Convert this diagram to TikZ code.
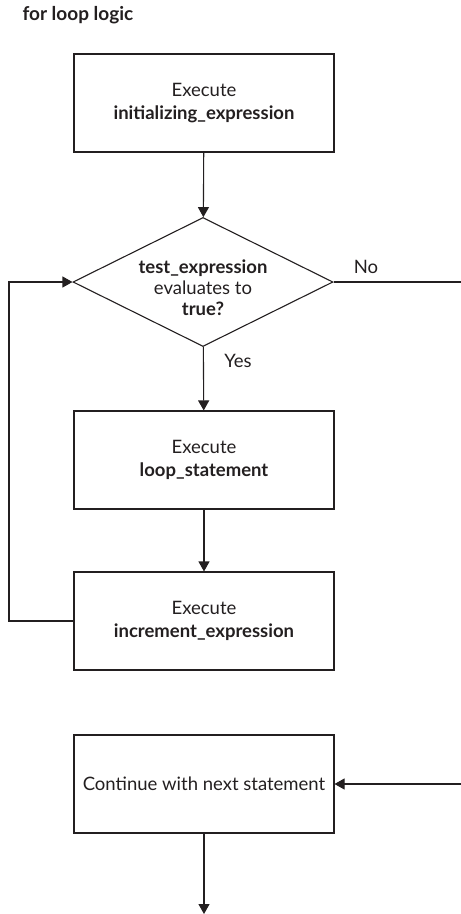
\documentclass[tikz,border=0pt]{standalone}
\usepackage{fontspec}
\setmainfont{Lato}
\usepackage{xcolor}
\usetikzlibrary{arrows.meta, shapes.geometric, calc, positioning}

\definecolor{ink}{HTML}{231F20}

\begin{document}
\begin{tikzpicture}[x=1pt, y=-1pt,
    every node/.style={text=ink, font=\fontsize{18.5}{23}\selectfont},
    stepbox/.style={draw=ink, line width=1.1pt, minimum width=260pt, minimum height=98pt, align=center, inner sep=0pt},
    testbox/.style={draw=ink, line width=1.1pt, shape=diamond, aspect=2, minimum width=260pt, minimum height=129pt, inner sep=0pt},
    line/.style={draw=ink, line width=1.1pt},
    arr/.style={line, -{Triangle[width=11pt,length=10pt]}}]
                        \useasboundingbox (0,0) rectangle (461,914);
                        \node[anchor=west, font=\fontsize{19}{23}\selectfont\bfseries] (title) at (19,15) {for loop logic};
                        \node[stepbox] (init) at (204,103) {Execute\\\textbf{initializing\_expression}};
                        \node[testbox, label={[align=center, font=\fontsize{18.5}{21}\selectfont, yshift=-6pt]center:\textbf{test\_expression}\\evaluates to\\\textbf{true?}}] (test) at (203,282) {};
                        \node[stepbox] (body) at (204,460) {Execute\\\textbf{loop\_statement}};
                        \node[stepbox] (incr) at (204,621) {Execute\\\textbf{increment\_expression}};
                        \node[stepbox] (next) at (204,784) {Continue with next statement};
                        \node[] (yes) at (238,361) {Yes};
                        \node[] (no) at (366,267) {No};
                        \coordinate (lft) at (9,0);
                        \coordinate (rgt) at (461,0);
                        \coordinate (out) at (204,914);
                        \draw
                        (init) edge[arr] (test)
                        (test) edge[arr] (body)
                        (body) edge[arr] (incr)
                        (test.east) edge[line] (test.east -| rgt)
                        (next.east -| rgt) edge[arr] (next.east)
                        (next) edge[arr] (out);
                        \draw[arr] (incr.west) -- (incr.west -| lft) |- (test.west);
                    \end{tikzpicture}
\end{document}
